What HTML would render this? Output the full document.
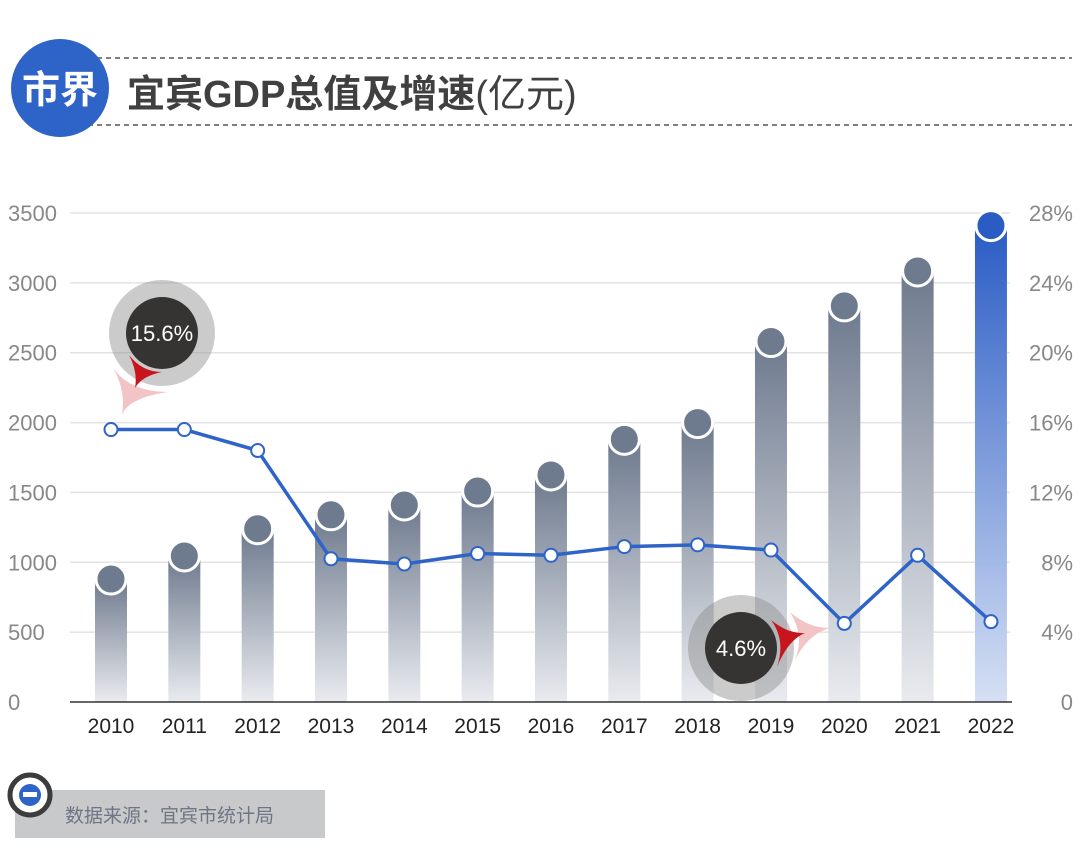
<!DOCTYPE html>
<html><head><meta charset="utf-8"><style>
html,body{margin:0;padding:0;background:#fff;width:1080px;height:865px;overflow:hidden}
svg{display:block;font-family:"Liberation Sans","Noto Sans CJK SC",sans-serif}
</style></head><body>
<svg id="c" width="1080" height="865" xmlns="http://www.w3.org/2000/svg">
<defs>
<linearGradient id="gg" x1="0" y1="0" x2="0" y2="1"><stop offset="0" stop-color="#6e7a8e"/><stop offset="1" stop-color="#e9ebef"/></linearGradient>
<linearGradient id="gb" x1="0" y1="0" x2="0" y2="1"><stop offset="0" stop-color="#2a5cc4"/><stop offset="1" stop-color="#d6e0f4"/></linearGradient>
</defs>
<g>
<line x1="88" y1="58" x2="1072" y2="58" stroke="#555" stroke-width="1.5" stroke-dasharray="5,4"/>
<line x1="88" y1="125" x2="1072" y2="125" stroke="#555" stroke-width="1.5" stroke-dasharray="5,4"/>
<circle cx="60" cy="88" r="49" fill="#2e63c8"/>
<text x="60" y="103" text-anchor="middle" font-size="38" font-weight="bold" fill="#fff">市界</text>
<text x="127" y="107" font-size="38" font-weight="bold" fill="#404040">宜宾GDP总值及增速<tspan font-weight="normal">(亿元)</tspan></text>
</g>
<g id="grid"></g><g id="bars"></g><g id="line"></g><g id="ann"></g><g id="axes"></g>
<g>
<rect x="15" y="790" width="310" height="48" fill="#c8c9cb"/>
<circle cx="30" cy="795" r="20" fill="#fff" stroke="#3c3c3c" stroke-width="5"/>
<circle cx="30" cy="795" r="11" fill="#2e63c8"/>
<rect x="23" y="792" width="14" height="5" fill="#fff"/>
<text x="65" y="822" font-size="19" fill="#6e7585">数据来源：宜宾市统计局</text>
</g>
</svg>
<script>
const years=["2010","2011","2012","2013","2014","2015","2016","2017","2018","2019","2020","2021","2022"];
const gdp=[880,1045,1240,1340,1410,1510,1625,1880,2000,2580,2835,3085,3410];
const growth=[15.6,15.6,14.4,8.2,7.9,8.5,8.4,8.9,9.0,8.7,4.5,8.4,4.6];
const leftTicks=[0,500,1000,1500,2000,2500,3000,3500];
const rightTicks=["0","4%","8%","12%","16%","20%","24%","28%"];
const NS="http://www.w3.org/2000/svg";
const y0=702,yTop=213;
const yL=v=>y0-(v/3500)*(y0-yTop);
const yR=v=>y0-(v/28)*(y0-yTop);
const xC=i=>111+i*73.33;
function mk(t,a,p){const e=document.createElementNS(NS,t);for(const k in a)e.setAttribute(k,a[k]);document.getElementById(p).appendChild(e);return e;}
leftTicks.forEach((t,i)=>{
 if(i>0){const l=mk('line',{x1:70,x2:1010,y1:yL(t),y2:yL(t),stroke:'#e3e3e3','stroke-width':1.5},'grid');
 
 }
 const a=mk('text',{x:8,y:yL(t)+8,'font-size':22,fill:'#888'},'axes');a.textContent=t;
 
 
 const b=mk('text',{x:1073,y:yL(t)+8,'font-size':22,fill:'#888','text-anchor':'end'},'axes');b.textContent=rightTicks[i];
 
 
});
const ax=mk('line',{x1:70,x2:1012,y1:y0,y2:y0,stroke:'#333','stroke-width':1.5},'axes');


years.forEach((yr,i)=>{
 const last=i===years.length-1;
 const top=yL(gdp[i]);
 const r=mk('rect',{x:xC(i)-16,y:top,width:32,height:y0-top,fill:last?'url(#gb)':'url(#gg)'},'bars');
 
 
 const c=mk('circle',{cx:xC(i),cy:top,r:15,fill:last?'#2a5cc4':'#6e7a8e',stroke:'#fff','stroke-width':3},'bars');
 
 
 const t=mk('text',{x:xC(i),y:733,'font-size':21,fill:'#222','text-anchor':'middle'},'axes');t.textContent=yr;
 
 
});
const pl=mk('polyline',{points:growth.map((g,i)=>xC(i)+','+yR(g)).join(' '),fill:'none',stroke:'#2e63c8','stroke-width':3.5},'line');


growth.forEach((g,i)=>{
 const p=mk('circle',{cx:xC(i),cy:yR(g),r:6.5,fill:'#fff',stroke:'#2e63c8','stroke-width':2},'line');
 
 
});
function callout(cx,cy,label,pink,red){
 const g=mk('g',{},'ann');
 
 
 const a=document.createElementNS(NS,'path');a.setAttribute('d',pink);a.setAttribute('fill','#f2c4c6');g.appendChild(a);
 const h=document.createElementNS(NS,'circle');h.setAttribute('cx',cx);h.setAttribute('cy',cy);h.setAttribute('r',53);h.setAttribute('fill','rgba(140,140,140,0.45)');g.appendChild(h);
 const d=document.createElementNS(NS,'circle');d.setAttribute('cx',cx);d.setAttribute('cy',cy);d.setAttribute('r',36);d.setAttribute('fill','#353433');g.appendChild(d);
 const r=document.createElementNS(NS,'path');r.setAttribute('d',red);r.setAttribute('fill','#c8151d');g.appendChild(r);
 const t=document.createElementNS(NS,'text');t.setAttribute('x',cx);t.setAttribute('y',cy+8);t.setAttribute('text-anchor','middle');t.setAttribute('font-size',22);t.setAttribute('fill','#fff');t.textContent=label;g.appendChild(t);
 return g;
}
callout(162,333,growth[0]+'%','M113 368 Q130 392 168 392 Q128 398 122 415 Q126 390 113 368 Z','M129 355 Q142 372 162 372 Q142 376 135 388 Q138 372 129 355 Z');
callout(741,648,growth[12]+'%','M790 612 Q808 628 830 628 Q808 634 795 660 Q805 636 790 612 Z','M771 620 Q788 634 805 633 Q788 640 777 667 Q786 640 771 620 Z');
</script>
</body></html>
